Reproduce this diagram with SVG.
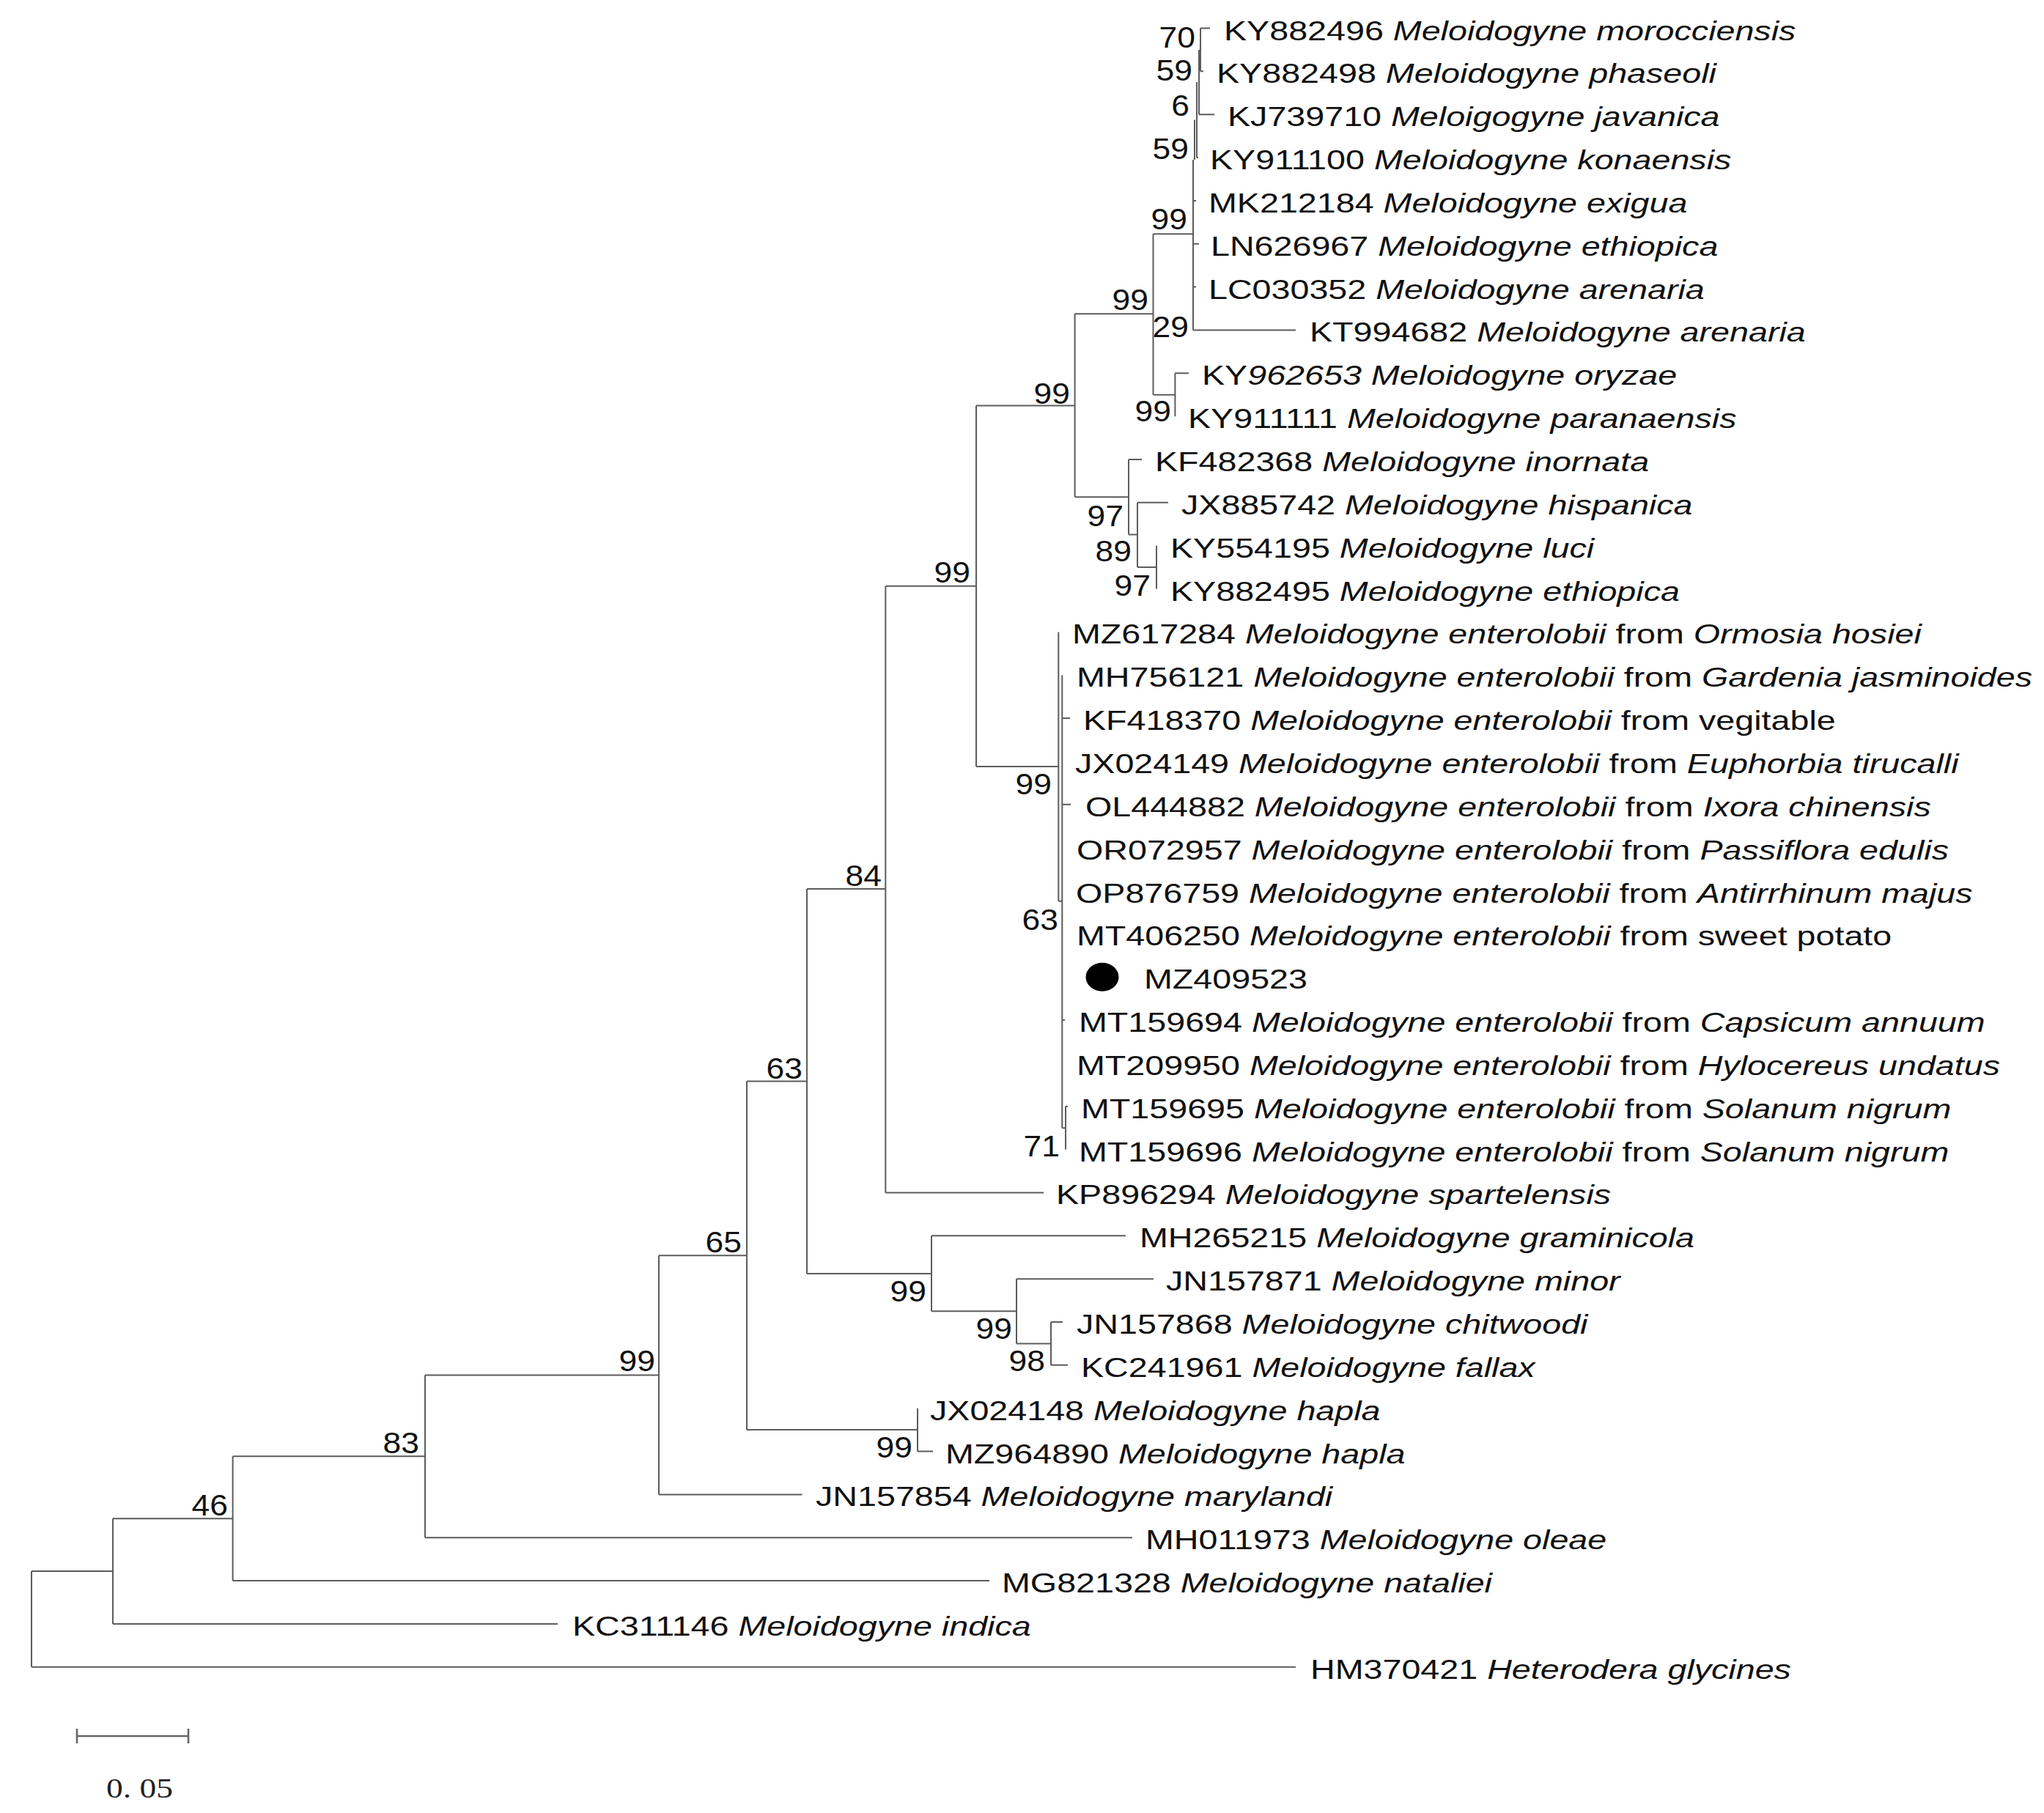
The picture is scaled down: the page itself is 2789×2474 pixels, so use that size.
<svg xmlns="http://www.w3.org/2000/svg" width="2789" height="2474" viewBox="0 0 2789 2474">
<style>
.bg{fill:#fff}
.br{fill:none;stroke:#5c5c5c;stroke-width:2}
.sb{fill:none;stroke:#666;stroke-width:2.6}
.t{font-family:"Liberation Sans",Arial,sans-serif;font-size:37.5px;fill:#111}
.i{font-style:italic}
.b{font-family:"Liberation Sans",Arial,sans-serif;font-size:40px;fill:#111;text-anchor:end}
.s{font-family:"Liberation Serif","Times New Roman",serif;font-size:38px;fill:#222}
</style>
<rect class="bg" x="0" y="0" width="2789" height="2474"/>
<g id="connectors" class="br">
<path d="M1638 38.5V97.35M1638 38.5H1651M1638 97.35H1642M1636 68V156.2M1636 156.2H1657M1633 112V215M1633 215H1635M1630 163.5V218M1628 218V450.45M1628 273.9H1632M1628 332.75H1636M1628 391.6H1632M1628 450.45H1768"/>
<path d="M1573.5 319.3H1628M1573.5 319.3V538.7M1573.5 538.7H1603.4M1603.4 509.3V568.15M1603.4 509.3H1622"/>
<path d="M1466.6 428.3H1573.5M1466.6 428.3V678.3M1466.6 678.3H1540"/>
<path d="M1540 627V729.5M1540 627H1558M1540 729.5H1552M1552 685.85V774.1M1552 685.85H1594M1552 774.1H1578M1578 744.7V803.55"/>
<path d="M1332 553.4H1466.6M1332 553.4V1046M1332 1046H1444.3M1208.3 799.7H1332"/>
<path d="M1444.3 862.4V1229.8M1444.3 1229.8H1449.3M1449.3 921.25V1539.2M1449.3 980.1H1460M1449.3 1097.8H1461M1449.3 1392.05H1453M1449.3 1539.2H1454M1454 1509.75V1568.6M1454 1509.75H1457"/>
<path d="M1208.3 799.7V1627.45M1208.3 1627.45H1424M1101 1213H1208.3M1101 1213V1738M1019 1475.5H1101"/>
<path d="M1101 1738H1271M1271 1686.3V1789.3M1271 1686.3H1536M1271 1789.3H1387M1387 1745.15V1833.4M1387 1745.15H1574M1387 1833.4H1434M1434 1804V1862.85M1434 1804H1450M1434 1862.85H1457"/>
<path d="M1019 1475.5V1951.1M1019 1951.1H1252M899 1713.3H1019M1252 1921.7V1980.55M1252 1980.55H1273"/>
<path d="M899 1713.3V2039.4M899 2039.4H1094.5M580 1876.4H899M580 1876.4V2098.25M580 2098.25H1545M317.6 1987.3H580"/>
<path d="M317.6 1987.3V2157.1M317.6 2157.1H1350M154 2072.2H317.6M154 2072.2V2215.95M154 2215.95H761M43 2144.1H154M43 2144.1V2274.8M43 2274.8H1768"/>
</g>
<g id="bootstrap">
<text class="b" transform="translate(1631 65) scale(1.11 1)">70</text>
<text class="b" transform="translate(1627 110) scale(1.11 1)">59</text>
<text class="b" transform="translate(1623 158) scale(1.11 1)">6</text>
<text class="b" transform="translate(1622 217) scale(1.11 1)">59</text>
<text class="b" transform="translate(1620 313) scale(1.11 1)">99</text>
<text class="b" transform="translate(1622 460) scale(1.11 1)">29</text>
<text class="b" transform="translate(1567 423) scale(1.11 1)">99</text>
<text class="b" transform="translate(1598 575) scale(1.11 1)">99</text>
<text class="b" transform="translate(1460 551) scale(1.11 1)">99</text>
<text class="b" transform="translate(1533 718) scale(1.11 1)">97</text>
<text class="b" transform="translate(1544 766) scale(1.11 1)">89</text>
<text class="b" transform="translate(1570 813) scale(1.11 1)">97</text>
<text class="b" transform="translate(1324 795) scale(1.11 1)">99</text>
<text class="b" transform="translate(1435 1084) scale(1.11 1)">99</text>
<text class="b" transform="translate(1444 1269) scale(1.11 1)">63</text>
<text class="b" transform="translate(1446 1578) scale(1.11 1)">71</text>
<text class="b" transform="translate(1203 1209) scale(1.11 1)">84</text>
<text class="b" transform="translate(1095 1472) scale(1.11 1)">63</text>
<text class="b" transform="translate(1012 1709) scale(1.11 1)">65</text>
<text class="b" transform="translate(1264 1776) scale(1.11 1)">99</text>
<text class="b" transform="translate(1381 1827) scale(1.11 1)">99</text>
<text class="b" transform="translate(1426 1871) scale(1.11 1)">98</text>
<text class="b" transform="translate(1245 1989) scale(1.11 1)">99</text>
<text class="b" transform="translate(894 1871) scale(1.11 1)">99</text>
<text class="b" transform="translate(572 1983) scale(1.11 1)">83</text>
<text class="b" transform="translate(311 2068) scale(1.11 1)">46</text>
</g>
<g id="tip-KY882496"><text class="t" transform="translate(1670 54.5) scale(1.244 1)">KY882496 <tspan class="i">Meloidogyne morocciensis</tspan></text></g>
<g id="tip-KY882498"><text class="t" transform="translate(1660 113.35) scale(1.244 1)">KY882498 <tspan class="i">Meloidogyne phaseoli</tspan></text></g>
<g id="tip-KJ739710"><text class="t" transform="translate(1675 172.2) scale(1.244 1)">KJ739710 <tspan class="i">Meloigogyne javanica</tspan></text></g>
<g id="tip-KY911100"><text class="t" transform="translate(1651 231.05) scale(1.244 1)">KY911100 <tspan class="i">Meloidogyne konaensis</tspan></text></g>
<g id="tip-MK212184"><text class="t" transform="translate(1649 289.9) scale(1.244 1)">MK212184 <tspan class="i">Meloidogyne exigua</tspan></text></g>
<g id="tip-LN626967"><text class="t" transform="translate(1652 348.75) scale(1.244 1)">LN626967 <tspan class="i">Meloidogyne ethiopica</tspan></text></g>
<g id="tip-LC030352"><text class="t" transform="translate(1649 407.6) scale(1.244 1)">LC030352 <tspan class="i">Meloidogyne arenaria</tspan></text></g>
<g id="tip-KT994682"><text class="t" transform="translate(1787 466.45) scale(1.244 1)">KT994682 <tspan class="i">Meloidogyne arenaria</tspan></text></g>
<g id="tip-KY962653"><text class="t" transform="translate(1640 525.3) scale(1.244 1)">KY<tspan class="i">962653 Meloidogyne oryzae</tspan></text></g>
<g id="tip-KY911111"><text class="t" transform="translate(1621 584.15) scale(1.244 1)">KY911111 <tspan class="i">Meloidogyne paranaensis</tspan></text></g>
<g id="tip-KF482368"><text class="t" transform="translate(1576 643) scale(1.244 1)">KF482368 <tspan class="i">Meloidogyne inornata</tspan></text></g>
<g id="tip-JX885742"><text class="t" transform="translate(1612 701.85) scale(1.244 1)">JX885742 <tspan class="i">Meloidogyne hispanica</tspan></text></g>
<g id="tip-KY554195"><text class="t" transform="translate(1597 760.7) scale(1.244 1)">KY554195 <tspan class="i">Meloidogyne luci</tspan></text></g>
<g id="tip-KY882495"><text class="t" transform="translate(1597 819.55) scale(1.244 1)">KY882495 <tspan class="i">Meloidogyne ethiopica</tspan></text></g>
<g id="tip-MZ617284"><text class="t" transform="translate(1463 878.4) scale(1.244 1)">MZ617284 <tspan class="i">Meloidogyne enterolobii</tspan> from <tspan class="i">Ormosia hosiei</tspan></text></g>
<g id="tip-MH756121"><text class="t" transform="translate(1469 937.25) scale(1.244 1)">MH756121 <tspan class="i">Meloidogyne enterolobii</tspan> from <tspan class="i">Gardenia jasminoides</tspan></text></g>
<g id="tip-KF418370"><text class="t" transform="translate(1478 996.1) scale(1.244 1)">KF418370 <tspan class="i">Meloidogyne enterolobii</tspan> from vegitable</text></g>
<g id="tip-JX024149"><text class="t" transform="translate(1467 1054.95) scale(1.244 1)">JX024149 <tspan class="i">Meloidogyne enterolobii</tspan> from <tspan class="i">Euphorbia tirucalli</tspan></text></g>
<g id="tip-OL444882"><text class="t" transform="translate(1481 1113.8) scale(1.244 1)">OL444882 <tspan class="i">Meloidogyne enterolobii</tspan> from <tspan class="i">Ixora chinensis</tspan></text></g>
<g id="tip-OR072957"><text class="t" transform="translate(1469 1172.65) scale(1.244 1)">OR072957 <tspan class="i">Meloidogyne enterolobii</tspan> from <tspan class="i">Passiflora edulis</tspan></text></g>
<g id="tip-OP876759"><text class="t" transform="translate(1468 1231.5) scale(1.244 1)">OP876759 <tspan class="i">Meloidogyne enterolobii</tspan> from <tspan class="i">Antirrhinum majus</tspan></text></g>
<g id="tip-MT406250"><text class="t" transform="translate(1469 1290.35) scale(1.244 1)">MT406250 <tspan class="i">Meloidogyne enterolobii</tspan> from sweet potato</text></g>
<g id="tip-MZ409523"><ellipse cx="1504" cy="1333.2" rx="22.5" ry="19.5" fill="#000"/><text class="t" transform="translate(1561 1349.2) scale(1.244 1)">MZ409523</text></g>
<g id="tip-MT159694"><text class="t" transform="translate(1472 1408.05) scale(1.244 1)">MT159694 <tspan class="i">Meloidogyne enterolobii</tspan> from <tspan class="i">Capsicum annuum</tspan></text></g>
<g id="tip-MT209950"><text class="t" transform="translate(1469 1466.9) scale(1.244 1)">MT209950 <tspan class="i">Meloidogyne enterolobii</tspan> from <tspan class="i">Hylocereus undatus</tspan></text></g>
<g id="tip-MT159695"><text class="t" transform="translate(1475 1525.75) scale(1.244 1)">MT159695 <tspan class="i">Meloidogyne enterolobii</tspan> from <tspan class="i">Solanum nigrum</tspan></text></g>
<g id="tip-MT159696"><text class="t" transform="translate(1472 1584.6) scale(1.244 1)">MT159696 <tspan class="i">Meloidogyne enterolobii</tspan> from <tspan class="i">Solanum nigrum</tspan></text></g>
<g id="tip-KP896294"><text class="t" transform="translate(1441 1643.45) scale(1.244 1)">KP896294 <tspan class="i">Meloidogyne spartelensis</tspan></text></g>
<g id="tip-MH265215"><text class="t" transform="translate(1555 1702.3) scale(1.244 1)">MH265215 <tspan class="i">Meloidogyne graminicola</tspan></text></g>
<g id="tip-JN157871"><text class="t" transform="translate(1591 1761.15) scale(1.244 1)">JN157871 <tspan class="i">Meloidogyne minor</tspan></text></g>
<g id="tip-JN157868"><text class="t" transform="translate(1469 1820) scale(1.244 1)">JN157868 <tspan class="i">Meloidogyne chitwoodi</tspan></text></g>
<g id="tip-KC241961"><text class="t" transform="translate(1475 1878.85) scale(1.244 1)">KC241961 <tspan class="i">Meloidogyne fallax</tspan></text></g>
<g id="tip-JX024148"><text class="t" transform="translate(1269 1937.7) scale(1.244 1)">JX024148 <tspan class="i">Meloidogyne hapla</tspan></text></g>
<g id="tip-MZ964890"><text class="t" transform="translate(1290 1996.55) scale(1.244 1)">MZ964890 <tspan class="i">Meloidogyne hapla</tspan></text></g>
<g id="tip-JN157854"><text class="t" transform="translate(1113 2055.4) scale(1.244 1)">JN157854 <tspan class="i">Meloidogyne marylandi</tspan></text></g>
<g id="tip-MH011973"><text class="t" transform="translate(1563 2114.25) scale(1.244 1)">MH011973 <tspan class="i">Meloidogyne oleae</tspan></text></g>
<g id="tip-MG821328"><text class="t" transform="translate(1367 2173.1) scale(1.244 1)">MG821328 <tspan class="i">Meloidogyne nataliei</tspan></text></g>
<g id="tip-KC311146"><text class="t" transform="translate(781 2231.95) scale(1.244 1)">KC311146 <tspan class="i">Meloidogyne indica</tspan></text></g>
<g id="tip-HM370421"><text class="t" transform="translate(1788 2290.8) scale(1.244 1)">HM370421 <tspan class="i">Heterodera glycines</tspan></text></g>
<g id="scale-bar">
<path class="sb" d="M105 2369H257M105 2359V2379M257 2359V2379"/>
<text class="s" x="145" y="2453" textLength="91" lengthAdjust="spacingAndGlyphs">0. 05</text>
</g>
</svg>
